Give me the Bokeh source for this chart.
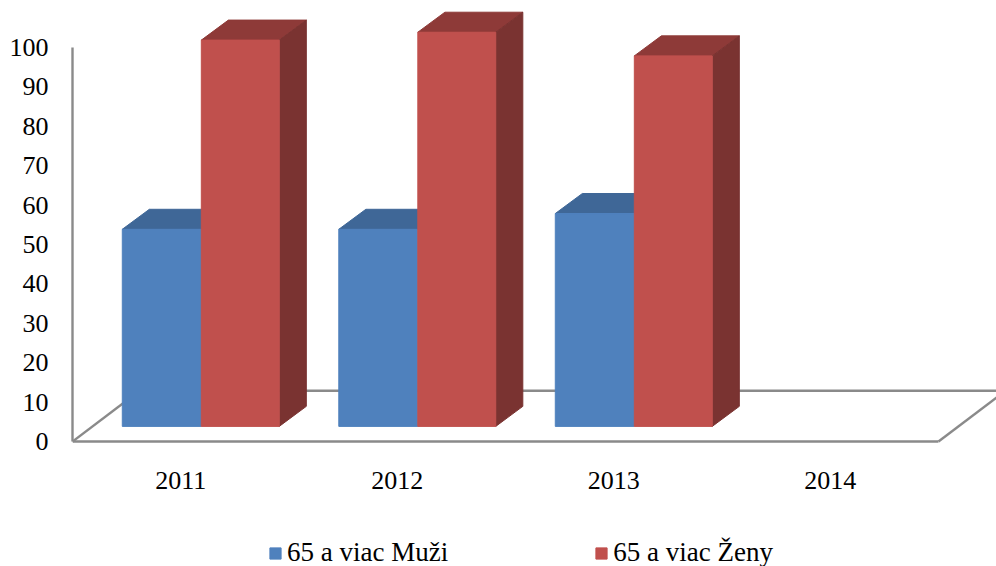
from bokeh.plotting import figure
from bokeh.models import Range1d, LinearAxis, FixedTicker, Legend, LegendItem, ColumnDataSource
from bokeh.embed import file_html
from bokeh.resources import INLINE

categories = ["2011", "2012", "2013", "2014"]
men_65_plus = [50, 50, 54]
women_65_plus = [98, 100, 94]
y_ticks = [0, 10, 20, 30, 40, 50, 60, 70, 80, 90, 100]

FONT = "Liberation Serif"
AXIS_SIZE = "26px"
LEGEND_SIZE = "27px"
GREY = "#8a8a8a"
LINE_W = 2.4
BLUE, BLUE_TOP = "#4f81bd", "#3f6797"
RED, RED_TOP, RED_SIDE = "#c0504d", "#8e3a38", "#7a3331"

# 3-D projection constants, in data units
BASE = 3.85
DX, DY = 0.125, 5.08
LEFT, MID, RIGHT = -0.27, 0.095, 0.455
FLOOR_DX, FLOOR_DY = 0.31, 12.9

p = figure(width=996, height=566, output_backend="svg", toolbar_location=None,
           x_range=Range1d(0, 924 / 216.5), y_range=Range1d(-31.7, 111.9),
           x_axis_location=None, y_axis_location=None,
           min_border_left=72, min_border_right=0, min_border_top=0, min_border_bottom=0,
           outline_line_color=None, background_fill_color="white", border_fill_color="white")
p.grid.visible = False

# floor
n = len(categories)
p.line([0, FLOOR_DX], [0, FLOOR_DY], line_color=GREY, line_width=LINE_W)
p.line([FLOOR_DX, n + FLOOR_DX], [FLOOR_DY, FLOOR_DY], line_color=GREY, line_width=LINE_W)
p.line([n, n + FLOOR_DX], [0, FLOOR_DY], line_color=GREY, line_width=LINE_W)


def box(values, x0, x1):
    centers = [i + 0.5 for i in range(len(values))]
    left = [c + x0 for c in centers]
    right = [c + x1 for c in centers]
    top = [BASE + v for v in values]
    top_x = [[l, l + DX, r + DX, r] for l, r in zip(left, right)]
    top_y = [[t, t + DY, t + DY, t] for t in top]
    side_x = [[r, r + DX, r + DX, r] for r in right]
    side_y = [[BASE, BASE + DY, t + DY, t] for t in top]
    return dict(left=left, right=right, top=top, bottom=[BASE] * len(values)), top_x, top_y, side_x, side_y


blue, btx, bty, _, _ = box(men_65_plus, LEFT, MID)
red, rtx, rty, rsx, rsy = box(women_65_plus, MID, RIGHT)

p.patches(btx, bty, fill_color=BLUE_TOP, line_color=BLUE_TOP)
r_men = p.quad(source=ColumnDataSource(blue), left="left", right="right", top="top", bottom="bottom",
               fill_color=BLUE, line_color=BLUE)
p.patches(rtx, rty, fill_color=RED_TOP, line_color=RED_TOP)
p.patches(rsx, rsy, fill_color=RED_SIDE, line_color=RED_SIDE)
r_women = p.quad(source=ColumnDataSource(red), left="left", right="right", top="top", bottom="bottom",
                 fill_color=RED, line_color=RED)

# value axis
ya = LinearAxis(ticker=FixedTicker(ticks=y_ticks), bounds=(0, 100))
ya.axis_line_color = GREY
ya.axis_line_width = LINE_W
ya.major_tick_line_color = None
ya.minor_tick_line_color = None
ya.major_tick_out = 0
ya.major_tick_in = 0
ya.major_label_standoff = 24
ya.major_label_text_font = FONT
ya.major_label_text_font_size = AXIS_SIZE
ya.major_label_text_color = "black"
p.add_layout(ya, "left")

# category axis
xa = LinearAxis(ticker=FixedTicker(ticks=[i + 0.5 for i in range(n)]), bounds=(0, n), fixed_location=0)
xa.major_label_overrides = {i + 0.5: c for i, c in enumerate(categories)}
xa.axis_line_color = GREY
xa.axis_line_width = LINE_W
xa.major_tick_line_color = None
xa.minor_tick_line_color = None
xa.major_tick_out = 0
xa.major_tick_in = 0
xa.major_label_standoff = 30
xa.major_label_text_font = FONT
xa.major_label_text_font_size = AXIS_SIZE
xa.major_label_text_color = "black"
p.add_layout(xa, "below")

legend = Legend(items=[LegendItem(label="65 a viac Muži", renderers=[r_men]),
                       LegendItem(label="65 a viac Ženy", renderers=[r_women])],
                orientation="horizontal", location=(196, -2), padding=0, margin=0, spacing=146,
                glyph_width=14, glyph_height=14, label_standoff=5,
                label_text_font=FONT, label_text_font_size=LEGEND_SIZE, label_text_color="black",
                border_line_color=None, background_fill_alpha=0)
p.add_layout(legend, "center")

open("out.html", "w").write(file_html(p, INLINE))
